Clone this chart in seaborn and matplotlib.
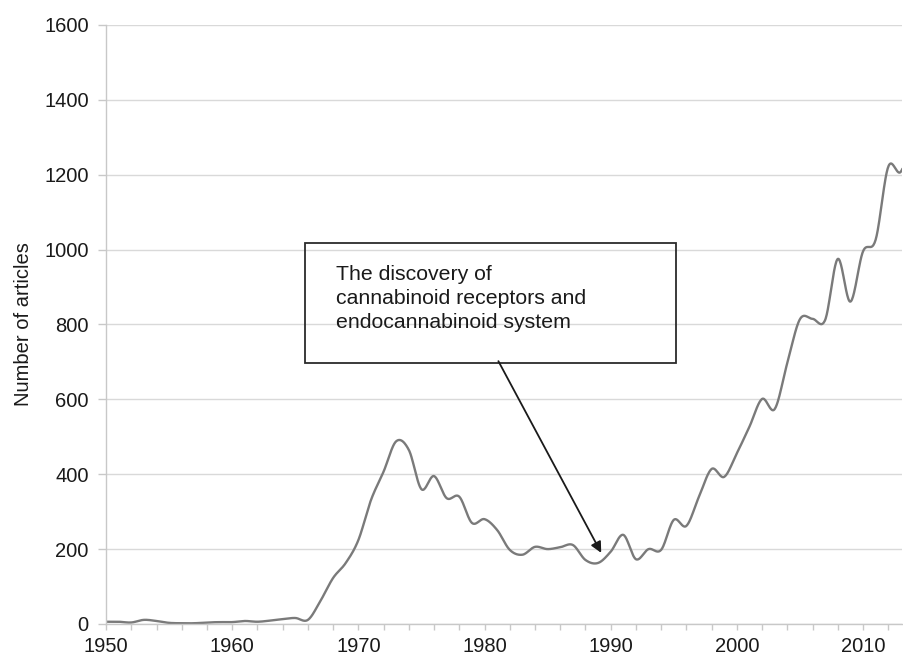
import numpy as np
import pandas as pd
import matplotlib
matplotlib.use("Agg")
import matplotlib.pyplot as plt
import seaborn as sns
from matplotlib.patches import Rectangle

# ---- data ----
years = list(range(1950, 2015))
articles = [6, 6, 4, 11, 8, 3, 2, 2, 4, 5, 5, 8, 6, 9, 13, 16, 11,
            62, 123, 163, 224, 331, 407, 488, 465, 360, 395, 336, 340, 270,
            280, 251, 198, 185, 206, 200, 205, 211, 171, 163, 193, 238, 173, 200,
            198, 278, 262, 340, 414, 393, 456, 527, 601, 574, 697, 814, 815, 812,
            975, 861, 995, 1026, 1221, 1208, 1310]
y_ticks = [0, 200, 400, 600, 800, 1000, 1200, 1400, 1600]
x_major_ticks = [1950, 1960, 1970, 1980, 1990, 2000, 2010]
x_minor_ticks = list(range(1950, 2014, 2))
y_label = "Number of articles"
note_text = "The discovery of\ncannabinoid receptors and\nendocannabinoid system"
arrow_tip = (1989.25, 190)
arrow_base = (1981.1, 702)


def smooth(x, y, n=24):
    """Catmull-Rom smoothing for display (like a spreadsheet 'smoothed line')."""
    x = np.asarray(x, float)
    y = np.asarray(y, float)
    xs, ys = [], []
    m = len(y)
    for i in range(m - 1):
        p0 = y[i - 1] if i > 0 else y[i]
        p1, p2 = y[i], y[i + 1]
        p3 = y[i + 2] if i + 2 < m else y[i + 1]
        t = np.linspace(0, 1, n, endpoint=False)
        m1 = (p2 - p0) / 2
        m2 = (p3 - p1) / 2
        h00 = 2 * t**3 - 3 * t**2 + 1
        h10 = t**3 - 2 * t**2 + t
        h01 = -2 * t**3 + 3 * t**2
        h11 = t**3 - t**2
        ys.append(h00 * p1 + h10 * m1 + h01 * p2 + h11 * m2)
        xs.append(x[i] + t * (x[i + 1] - x[i]))
    xs.append([x[-1]])
    ys.append([y[-1]])
    return np.concatenate(xs), np.concatenate(ys)


sns.set_style("white")
plt.rcParams['font.family'] = ['Liberation Sans', 'DejaVu Sans']

fig = plt.figure(figsize=(9.04, 6.58), dpi=100)
ax = fig.add_axes([0.1173, 0.0517, 0.8806, 0.9104])

sx, sy = smooth(years, articles)
df = pd.DataFrame({"year": sx, "articles": sy})
sns.lineplot(data=df, x="year", y="articles", ax=ax, color="#7a7a7a",
             linewidth=1.7, sort=False, estimator=None)

ax.set_xlim(1950, 2013.1)
ax.set_ylim(0, 1600)
ax.set_yticks(y_ticks)
ax.set_xticks(x_major_ticks)
ax.set_xticks(x_minor_ticks, minor=True)
ax.set_xticklabels([str(v) for v in x_major_ticks])
ax.set_yticklabels([str(v) for v in y_ticks])

ax.yaxis.grid(True, color="#d9d9d9", linewidth=1.0)
ax.xaxis.grid(False)
ax.set_axisbelow(True)
for s in ["top", "right"]:
    ax.spines[s].set_visible(False)
for s in ["left", "bottom"]:
    ax.spines[s].set_color("#c8c8c8")
    ax.spines[s].set_linewidth(1.0)

ax.tick_params(axis="y", which="major", direction="out", length=6, width=1,
               color="#c8c8c8", labelsize=14.5, labelcolor="#1a1a1a", pad=6.5, left=True)
ax.tick_params(axis="x", which="both", direction="out", length=4, width=1,
               color="#c8c8c8", labelsize=14.5, labelcolor="#1a1a1a", pad=5.5, bottom=True)

ax.set_xlabel("")
ax.set_ylabel(y_label, fontsize=14.5, color="#1a1a1a")
ax.yaxis.set_label_coords(-0.092, 0.5)

# annotation box
rect = Rectangle((0.25, 0.4357), 0.466, 0.2004, transform=ax.transAxes,
                 fill=False, edgecolor="#2b2b2b", linewidth=1.3, zorder=5)
ax.add_patch(rect)
ax.text(0.289, 0.5993, note_text, transform=ax.transAxes, ha="left", va="top",
        fontsize=15.3, color="#1a1a1a", linespacing=1.33, zorder=6)
ax.annotate("", xy=arrow_tip, xytext=arrow_base,
            arrowprops=dict(arrowstyle="-|>", color="#1a1a1a", lw=1.3,
                            mutation_scale=16, shrinkA=0, shrinkB=0),
            zorder=6)

fig.savefig("out.png", dpi=100)
